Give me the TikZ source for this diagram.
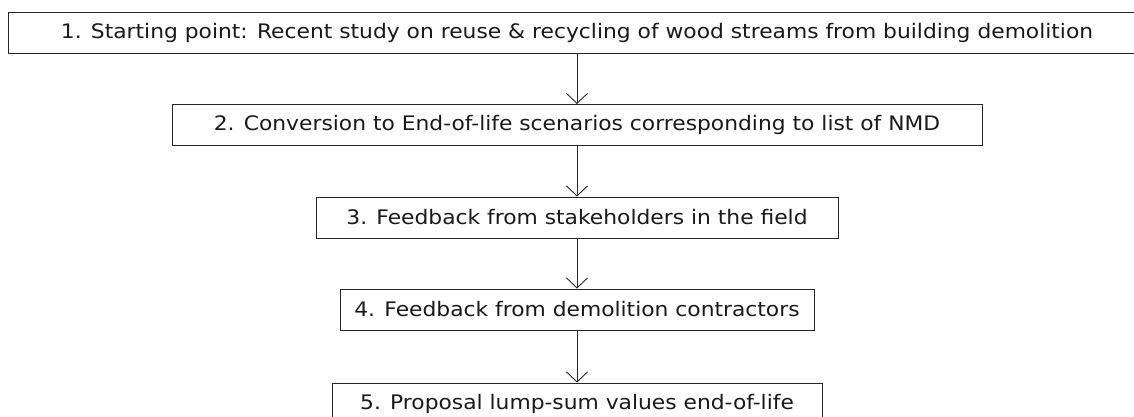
\documentclass[tikz,border=0pt]{standalone}
\usepackage{fontspec}
\setmainfont{DejaVu Sans}[FakeStretch=1.09]
\usetikzlibrary{arrows.meta}

\begin{document}
\begin{tikzpicture}[x=1pt,y=-1pt,
  stepbox/.style={draw=black!85, line width=0.9pt, rectangle, inner sep=0pt,
    minimum height=41pt, font=\fontsize{20}{24}\selectfont, text=black!90},
  flow/.style={draw=black!85, line width=0.9pt,
    -{Straight Barb[length=10pt,width=21pt,line width=0.9pt]}}]
  \useasboundingbox (0,0) rectangle (1134,417);
  \clip (0,0) rectangle (1134,417);

  % steps, stacked on a common vertical axis
  \node[stepbox, minimum width=1138pt] (s1) at (577,32.5)
    {1. Starting point: Recent study on reuse \& recycling of wood streams from building demolition};
  \node[stepbox, minimum width=810pt] (s2) at (577,125)
    {2. Conversion to End-of-life scenarios corresponding to list of NMD};
  \node[stepbox, minimum width=522pt] (s3) at (577,217.5)
    {3. Feedback from stakeholders in the field};
  \node[stepbox, minimum width=474pt] (s4) at (577,309.5)
    {4. Feedback from demolition contractors};
  \node[stepbox, minimum width=490pt] (s5) at (577,403.5)
    {5. Proposal lump-sum values end-of-life};

  % connectors
  \draw[flow] (s1) -- (s2);
  \draw[flow] (s2) -- (s3);
  \draw[flow] (s3) -- (s4);
  \draw[flow] (s4) -- (s5);
\end{tikzpicture}
\end{document}
